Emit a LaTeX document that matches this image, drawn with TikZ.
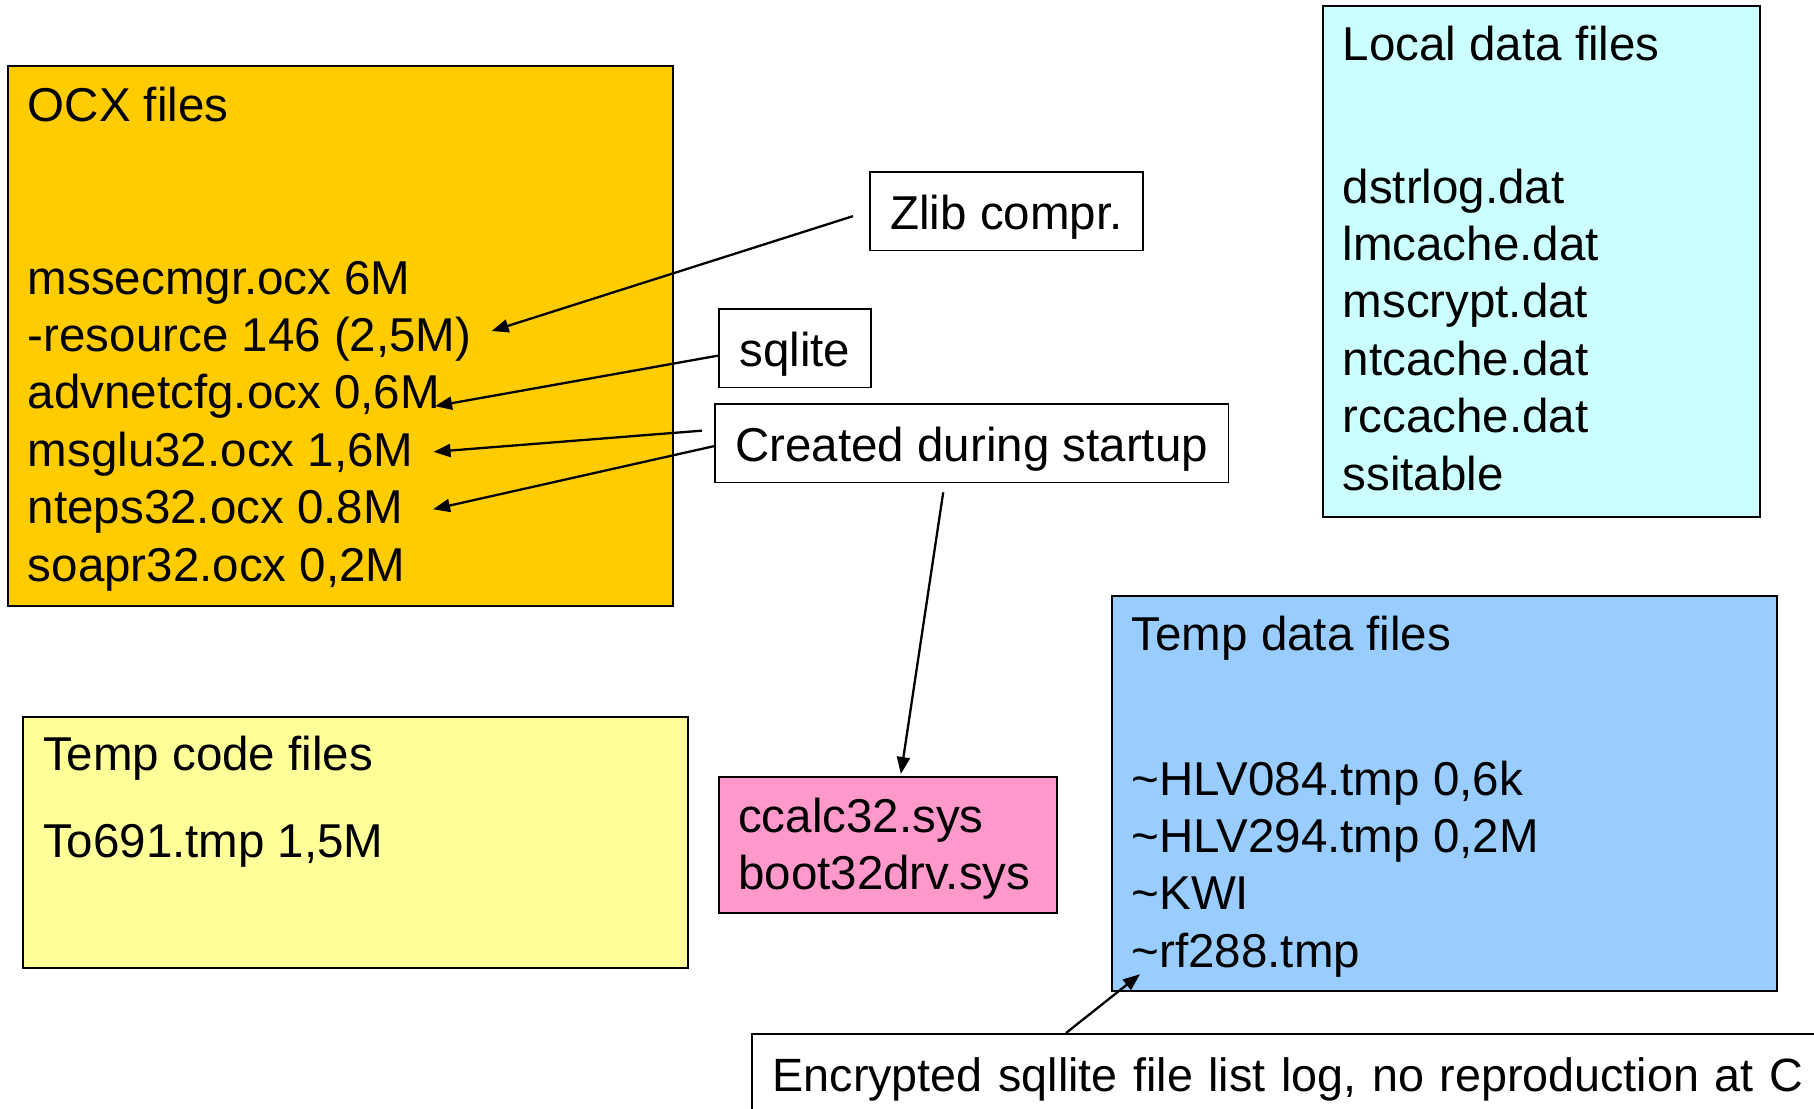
\documentclass[tikz,border=0pt]{standalone}
\usepackage{fontspec}
\setmainfont{Liberation Sans}
\usetikzlibrary{arrows.meta}
\definecolor{ocxorange}{HTML}{FFCC00}
\definecolor{localcyan}{HTML}{CCFFFF}
\definecolor{tempblue}{HTML}{99CCFF}
\definecolor{codeyellow}{HTML}{FFFF99}
\definecolor{syspink}{HTML}{FF99CC}
\begin{document}
\begin{tikzpicture}[x=1pt, y=-1pt, every node/.style={font=\fontsize{47.5}{57.4}\selectfont},
    filebox/.style={draw, line width=1.8pt, anchor=north west, inner sep=0pt},
    item/.style={anchor=base west, inner sep=0pt},
    note/.style={draw, line width=1.8pt, fill=white, anchor=north west,
      text height=41.8pt, text depth=5.7pt, inner xsep=20.5pt, inner ysep=15.5pt},
    link/.style={line width=2.3pt, -{Triangle[length=17pt,width=13pt]}}]
        \useasboundingbox (0,0) rectangle (1814,1108);
        % coloured boxes
        \node[filebox, fill=ocxorange, minimum width=665pt, minimum height=540pt] (ocx) at (7,65) {};
        \node[filebox, fill=localcyan, minimum width=437pt, minimum height=511pt] (local) at (1322,5) {};
        \node[filebox, fill=tempblue, minimum width=665pt, minimum height=395pt] (tempdata) at (1111,595) {};
        \node[filebox, fill=codeyellow, minimum width=665pt, minimum height=251pt] (tempcode) at (22,716) {};
        \node[filebox, fill=syspink, minimum width=338pt, minimum height=136pt] (sys) at (718,776) {};
        % OCX files
        \node[item] (ocxhead) at (27.7,121) {OCX files};
        \node[item] (mssec) at (27.7,294) {mssecmgr.ocx 6M};
        \node[item] (res) at (27.7,351.4) {-resource 146 (2,5M)};
        \node[item] (adv) at (27.7,408.8) {advnetcfg.ocx 0,6M};
        \node[item] (msglu) at (27.7,466.2) {msglu32.ocx 1,6M};
        \node[item] (nteps) at (27.7,523.6) {nteps32.ocx 0.8M};
        \node[item] (soapr) at (27.7,581) {soapr32.ocx 0,2M};
        % local data files
        \node[item] (localhead) at (1342.5,61) {Local data files};
        \node[item] (dstr) at (1342.5,203) {dstrlog.dat};
        \node[item] (lmc) at (1342.5,260.4) {lmcache.dat};
        \node[item] (mscr) at (1342.5,317.8) {mscrypt.dat};
        \node[item] (ntc) at (1342.5,375.2) {ntcache.dat};
        \node[item] (rcc) at (1342.5,432.6) {rccache.dat};
        \node[item] (ssi) at (1342.5,490) {ssitable};
        % temp data files
        \node[item] (tempdatahead) at (1131.5,650) {Temp data files};
        \node[item] (hlva) at (1131.5,795) {\textasciitilde HLV084.tmp 0,6k};
        \node[item] (hlvb) at (1131.5,852.4) {\textasciitilde HLV294.tmp 0,2M};
        \node[item] (kwi) at (1131.5,909.8) {\textasciitilde KWI};
        \node[item] (rf) at (1131.5,967.2) {\textasciitilde rf288.tmp};
        % temp code files
        \node[item] (tempcodehead) at (42.8,770.5) {Temp code files};
        \node[item] (to691) at (42.8,857) {To691.tmp 1,5M};
        % sys files
        \node[item] (ccalc) at (738,832) {ccalc32.sys};
        \node[item] (boot) at (738,889.4) {boot32drv.sys};
        % notes
        \node[note] (zlib) at (869,171) {Zlib compr.};
        \node[note] (sqlite) at (718,308) {sqlite};
        \node[note] (startup) at (714,403) {Created during startup};
        \node[note, font=\fontsize{46.7}{57}\selectfont, text width=1150pt, align=left, inner xsep=20.7pt] (enc) at (751,1033) {Encrypted sqllite file list log, no reproduction at C};
        % arrows
        \draw[link] ([xshift=-16pt,yshift=-5pt]zlib.west) -- ([xshift=20pt,yshift=17.7pt]res.mid east);
        \draw[link] ([yshift=-7.5pt]sqlite.west) -- ([xshift=-5pt]adv.mid east);
        \draw[link] ([xshift=-12pt,yshift=12.5pt]startup.west) -- ([xshift=20pt,yshift=11.7pt]msglu.mid east);
        \draw[link] ([yshift=-3pt]startup.west) -- ([xshift=30pt,yshift=11.7pt]nteps.mid east);
        \draw[link] ([xshift=-28.5pt,yshift=-9pt]startup.south) -- ([xshift=13pt,yshift=2pt]sys.north);
        \draw[link] ([xshift=315pt]enc.north west) -- ([xshift=8.5pt,yshift=3pt]rf.south west);
    \end{tikzpicture}
\end{document}
